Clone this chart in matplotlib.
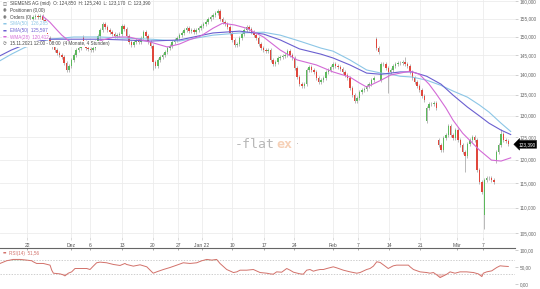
import matplotlib
matplotlib.use("Agg")
import matplotlib.pyplot as plt
import matplotlib.transforms as mtransforms
import numpy as np

# 4h candles, closes (bar index 0 = first candle)
closes = [
  155.4, 155.7, 155.4, 155.7, 154.6, 152.3, 149.6, 148.0, 147.2, 146.4,
  145.6, 145.1, 144.5, 143.0, 141.2, 142.2, 143.8, 145.1, 146.4, 146.9,
  147.2, 148.5, 146.9, 146.7, 146.4, 146.9, 148.5, 150.2, 151.8, 153.5,
  152.6, 151.8, 151.2, 150.7, 150.2, 150.4, 150.7, 152.9, 152.1, 150.2,
  148.5, 147.7, 148.5, 149.1, 148.5, 149.6, 151.2, 150.2, 148.5, 147.5,
  143.2, 142.2, 143.8, 144.5, 145.1, 145.9, 146.9, 147.5, 148.5, 149.1,
  149.6, 150.4, 151.0, 151.8, 152.3, 151.5, 151.8, 151.2, 151.8, 152.3,
  152.9, 153.5, 154.0, 154.9, 155.4, 156.0, 156.6, 157.1, 154.9, 154.0,
  153.5, 152.6, 151.0, 149.1, 147.7, 148.0, 149.6, 150.7, 151.8, 152.6,
  152.1, 151.2, 150.4, 149.6, 148.0, 146.9, 146.4, 146.1, 146.4, 143.8,
  142.7, 143.2, 144.3, 144.5, 144.8, 145.1, 146.1, 145.1, 144.3, 141.7,
  139.4, 137.6, 137.1, 137.6, 141.2, 141.9, 141.2, 140.7, 139.1, 138.1,
  138.6, 139.1, 140.7, 141.2, 141.9, 142.7, 142.2, 141.9, 141.4, 140.7,
  139.9, 139.1, 136.6, 134.9, 133.4, 134.2, 135.6, 136.1, 136.4, 137.1,
  137.6, 138.6, 139.1, 146.9, 145.9, 142.7, 142.7, 141.7, 140.7, 141.2,
  142.2, 142.7, 143.0, 143.0, 143.2, 142.7, 142.2, 140.7, 139.1, 138.1,
  137.1, 136.1, 134.7, 133.7, 131.8, 132.7, 132.7, 133.0, 131.8, 123.2,
  122.1, 124.8, 125.4, 127.5, 125.4, 124.8, 126.6, 124.3, 123.2, 121.6,
  120.8, 123.4, 124.3, 125.0, 124.3, 117.7, 115.2, 113.1, 115.6, 116.0,
  116.0, 115.6, 115.2, 121.6, 123.2, 125.7, 124.3, 124.1, 123.4,
]
# candles that open away from the previous close (gaps)
gap_opens = {0: 155.0, 21: 149.8, 143: 149.3, 145: 138.6, 164: 128.8,
             169: 124.3, 188: 108.6, 193: 119.8}
long_highs = {77: 157.7, 155: 144.5, 195: 126.9}
long_lows = {50: 141.2, 148: 135.4, 164: 128.3, 180: 117.4, 188: 105.8}

ma_bars = [-14, -9, -4, 0, 7, 17, 28, 38, 49, 61, 75, 86, 96, 103, 111, 120,
           125, 132, 139, 145, 149, 153, 158, 164, 170, 175, 181, 186, 190,
           195, 199]
sma_vals = [143.5, 145.3, 146.9, 148.0, 149.3, 149.9, 149.9, 149.6, 149.3,
            148.8, 150.4, 151.0, 151.2, 150.4, 148.8, 146.9, 146.1, 143.8,
            141.2, 140.4, 140.1, 139.6, 139.4, 138.6, 137.3, 135.9, 134.4,
            132.5, 130.8, 128.2, 126.3]
ema_vals = [144.8, 146.4, 147.7, 148.5, 149.3, 149.3, 149.3, 149.1, 148.8,
            149.1, 151.0, 151.5, 150.7, 149.1, 146.7, 145.3, 144.3, 142.5,
            140.4, 140.1, 140.4, 140.7, 140.7, 139.6, 137.6, 134.9, 132.0,
            129.9, 128.2, 126.6, 125.6]
wma_bars = [4, 7, 10, 12, 15, 20, 24, 29, 34, 40, 49, 56, 61, 65, 70, 75, 79,
            84, 89, 96, 103, 110, 118, 125, 132, 136, 139, 145, 149, 153, 157,
            161, 165, 168, 172, 175, 179, 186, 191, 195, 199]
wma_vals = [155.7, 154.0, 151.8, 150.4, 148.8, 147.7, 148.0, 149.1, 149.9,
            149.9, 148.5, 147.2, 148.0, 149.1, 150.2, 152.3, 153.7, 153.2,
            152.3, 149.9, 146.4, 143.8, 142.5, 140.7, 139.4, 137.9, 136.9,
            138.6, 139.9, 140.4, 140.9, 140.1, 137.6, 135.2, 131.8, 128.9,
            125.9, 122.1, 119.9, 119.7, 120.4]

rsi_bars = [-13.75, -11, -8.2, -5.4, -2.6, -0.5, 0.1, 1.5, 4.3, 7.1, 7.8, 8.5,
            11.25, 12.6, 13.3, 14.7, 16.1, 17.5, 19.6, 22.4, 23.75, 25.1, 26.5,
            27.9, 30.7, 33.5, 36.25, 38.3, 39, 41.8, 44.6, 47.4, 49.5, 50.1,
            51.5, 54.3, 57.1, 59.9, 62.6, 65.4, 68.2, 70.3, 72.4, 74.5, 76.5,
            77.9, 80.7, 83.5, 84.9, 86.25, 89, 91.8, 94.6, 97.4, 98.75, 100.1,
            101.5, 103.6, 105.7, 107.1, 108.5, 111.25, 112.6, 114, 115.4,
            116.8, 118.2, 119.6, 121, 122.4, 125.1, 126.5, 129.3, 132.1, 134.9,
            136.25, 139, 140.4, 141.8, 143.2, 144.6, 146.7, 148, 148.75, 150.1,
            151.5, 156.4, 157.1, 158.5, 161.25, 164, 165.4, 166.8, 168.2,
            169.6, 171, 172.4, 173.75, 175.8, 177.9, 180.7, 183.5, 185.5, 187,
            187.6, 189, 191.1, 193.2, 194.6, 196, 198]
rsi_vals = [61, 69, 73, 73, 71, 69, 66, 61, 61, 56, 41, 32, 30, 27, 24, 32, 36,
            46, 46, 46, 43, 53, 63, 65, 63, 58, 55, 61, 58, 53, 57, 51, 36, 32,
            36, 43, 49, 56, 63, 61, 63, 69, 73, 71, 73, 61, 43, 34, 36, 41, 41,
            43, 34, 32, 30, 29, 36, 35, 46, 41, 35, 30, 29, 41, 43, 38, 41, 43,
            43, 46, 51, 48, 41, 36, 32, 34, 43, 46, 53, 66, 64, 53, 46, 49, 54,
            56, 56, 51, 43, 36, 34, 32, 34, 27, 19, 24, 29, 36, 32, 36, 36, 34,
            30, 22, 32, 36, 39, 49, 54, 53, 52]

date_tick_bars = [-2.5, 15.8, 23.75, 37.1, 50, 60.4, 70.4, 82.9, 96.25, 108.75,
                  125, 135.4, 148.3, 161.25, 176.7, 187.5]
date_tick_labels = ["22", "Dez", "6", "13", "20", "27", "Jan 22", "10", "17",
                    "24", "Feb", "7", "14", "21", "Mär", "7"]
price_ticks = [105, 110, 115, 120, 125, 130, 135, 140, 145, 150, 155, 160]
rsi_ticks = [0, 50, 100]
last_close = 123.39

UP = "#5cb85c"
DOWN = "#e0473c"
SMA_C = "#8cc6e6"
EMA_C = "#6a5fd0"
WMA_C = "#d36ad6"
RSI_C = "#d2716a"
FONT = ["Liberation Sans", "DejaVu Sans"]

W, H = 540, 289
fig = plt.figure(figsize=(W / 100, H / 100), dpi=100)
fig.patch.set_facecolor("white")


def fx(px):
  return px / W


def fy(py):
  return 1 - py / H


ax = fig.add_axes([0, fy(237), fx(515), fy(0) - fy(237)])
rx = fig.add_axes([0, 0, fx(515), fy(248)])

xlim = (-13.75, 200.8)

# candles
opens = [gap_opens.get(i, closes[i - 1] if i else closes[0]) for i in range(len(closes))]
for i, (o, c) in enumerate(zip(opens, closes)):
  hi = long_highs.get(i, max(o, c) * 1.0035)
  lo = long_lows.get(i, min(o, c) / 1.0035)
  col = UP if c >= o else DOWN
  ax.vlines(i, lo, hi, color="#9c9c9c", linewidth=0.5, zorder=2)
  ax.bar(i, max(abs(c - o), 0.12), bottom=min(o, c), width=0.62, color=col,
         linewidth=0, zorder=3)

ax.plot(ma_bars, sma_vals, color=SMA_C, linewidth=0.8, zorder=4)
ax.plot(ma_bars, ema_vals, color=EMA_C, linewidth=0.8, zorder=4)
ax.plot(wma_bars, wma_vals, color=WMA_C, linewidth=0.8, zorder=4)

ax.set_yscale("log")
ax.set_xlim(*xlim)
ax.set_ylim(104.3, 160.3)
ax.yaxis.set_major_locator(matplotlib.ticker.FixedLocator(price_ticks))
ax.yaxis.set_minor_locator(matplotlib.ticker.NullLocator())
ax.yaxis.set_major_formatter(matplotlib.ticker.FuncFormatter(
  lambda v, _: f"{v:.3f}".replace(".", ",")))
ax.set_xticks(date_tick_bars)
ax.set_xticklabels(date_tick_labels)
ax.yaxis.tick_right()
ax.tick_params(axis="y", length=2, width=0.5, color="#bbbbbb", pad=1.5,
               labelsize=3.4, labelcolor="#666666")
ax.tick_params(axis="x", length=2, width=0.5, color="#cccccc", pad=2.5,
               labelsize=3.6, labelcolor="#555555")
for lab in ax.get_xticklabels() + ax.get_yticklabels():
  lab.set_family(FONT)
ax.grid(True, color="#ececec", linewidth=0.6, zorder=0)
ax.set_axisbelow(True)
for s in ax.spines.values():
  s.set_visible(False)

# last price tag
tr = mtransforms.blended_transform_factory(ax.transAxes, ax.transData)
ax.text(1.006, last_close, "123,390", transform=tr, ha="left", va="center",
        fontsize=3.4, color="white", family=FONT, zorder=10, clip_on=False,
        bbox=dict(boxstyle="larrow,pad=0.3", fc="black", ec="black", lw=0.3))

# RSI panel
rsi_x = np.array(rsi_bars)
rsi_y = np.array(rsi_vals, dtype=float)
rx.plot(rsi_x, rsi_y, color=RSI_C, linewidth=0.7, zorder=3)
rx.fill_between(rsi_x, rsi_y, 70, where=rsi_y > 70, interpolate=True,
                color="#a8d8a0", alpha=0.6, linewidth=0)
rx.fill_between(rsi_x, rsi_y, 30, where=rsi_y < 30, interpolate=True,
                color="#f0b0aa", alpha=0.6, linewidth=0)
for lvl in (70, 30):
  rx.axhline(lvl, color="#bbbbbb", linewidth=0.5, linestyle=(0, (2, 2)), zorder=1)
rx.set_xlim(*xlim)
rx.set_ylim(-15, 107)
rx.set_yticks(rsi_ticks)
rx.set_yticklabels([f"{v:.2f}".replace(".", ",") for v in rsi_ticks])
rx.yaxis.tick_right()
rx.set_xticks(date_tick_bars)
rx.tick_params(axis="x", direction="in", length=1.5, width=0.5, color="#888888",
               labelbottom=False, top=True, bottom=False)
rx.tick_params(axis="y", length=2, width=0.5, color="#bbbbbb", pad=1.5,
               labelsize=3.4, labelcolor="#666666")
for lab in rx.get_yticklabels():
  lab.set_family(FONT)
for name, s in rx.spines.items():
  s.set_visible(name == "top")
rx.spines["top"].set_color("#666666")
rx.spines["top"].set_linewidth(0.8)
rx.patch.set_alpha(0)

fig.text(fx(3), fy(253), "\u25ac", color=RSI_C, fontsize=2.6, va="center",
         family=["DejaVu Sans"])
fig.text(fx(9), fy(253), "RSI(14)  51,56", color=RSI_C, fontsize=3.3,
         va="center", family=FONT)

# legend block, top left
box = dict(fc="white", ec="none", pad=0.4)
legend_rows = [
  ("\u25eb", "#555555", "SIEMENS AG (mid)  O: 124,850  H: 125,240  L: 123,170  C: 123,390", "#444444", 4),
  ("\u25c9", "#555555", "Positionen (0,00)", "#444444", 10.5),
  ("\u25c9", "#555555", "Orders (0)", "#444444", 17),
  ("\u25ac", SMA_C, "SMA(50)  126,285", SMA_C, 23.8),
  ("\u25ac", EMA_C, "EMA(50)  125,597", EMA_C, 30.4),
  ("\u25ac", WMA_C, "WMA(28)  120,412", WMA_C, 37),
  ("\u25f7", "#444444", "15.11.2021 12:00 - 08:00  (4 Monate, 4 Stunden)", "#444444", 43.6),
]
for icon, icol, label, lcol, py in legend_rows:
  fig.text(fx(3), fy(py), icon, color=icol, fontsize=3.0, va="center",
           family=["DejaVu Sans"], bbox=box, zorder=20)
  fig.text(fx(10), fy(py), label, color=lcol, fontsize=3.3, va="center",
           family=FONT, bbox=box, zorder=20)

# watermark
fig.text(fx(235), fy(145), "-flat", color="#b8b8b8", fontsize=9.5, va="center",
         family=["DejaVu Sans Mono"])
fig.text(fx(276), fy(145), "ex", color="#f6d0b6", fontsize=9.5, va="center",
         family=["DejaVu Sans Mono"], fontweight="bold")
fig.text(fx(296), fy(144.5), "\u00b7", color="#b8b8b8", fontsize=7, va="center",
         family=["DejaVu Sans"])

fig.savefig("out.png", dpi=100, facecolor="white")
